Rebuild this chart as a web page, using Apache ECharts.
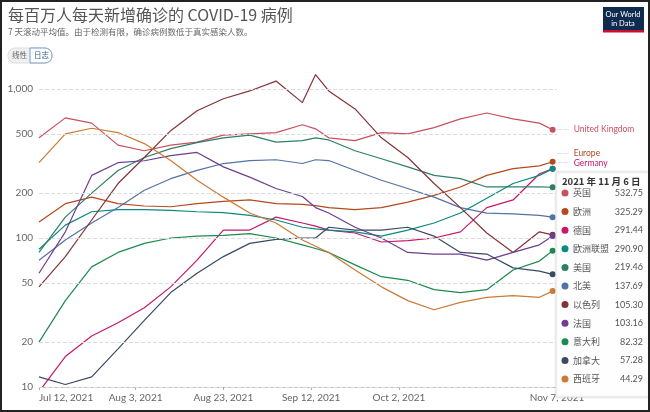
<!DOCTYPE html>
<html><head><meta charset="utf-8">
<script src="https://cdn.jsdelivr.net/npm/echarts@6/dist/echarts.min.js"></script>
<style>
html,body{margin:0;padding:0;background:#fff;}
#chart{width:646px;height:408px;border:2px solid #222;}
</style></head>
<body><div id="chart"></div>
<script>
// sample dates (7-day averages)
var dates = ['2021-07-12','2021-07-18','2021-07-24','2021-07-30','2021-08-05','2021-08-11','2021-08-17',
  '2021-08-23','2021-08-29','2021-09-04','2021-09-10','2021-09-13','2021-09-16','2021-09-22','2021-09-28',
  '2021-10-04','2021-10-10','2021-10-16','2021-10-22','2021-10-28','2021-11-03','2021-11-06'];

var names = ['英国','欧洲','德国','欧洲联盟','美国','北美','以色列','法国','意大利','加拿大','西班牙'];
var colors = ['#c9505f','#b5491e','#c8186a','#0a8a80','#2e7f66','#5272a8','#843339','#6d3e91','#1c8a4e','#3a4a62','#cc7a35'];
var lastValues = ['532.75','325.29','291.44','290.90','219.46','137.69','105.30','103.16','82.32','57.28','44.29'];

var uk      = [470,640,590,420,385,420,440,490,500,510,575,540,470,450,510,500,550,630,690,630,590,533];
var europe  = [128,170,188,170,164,162,170,176,180,170,168,165,160,155,160,174,193,220,263,292,305,325];
var germany = [9.3,16,22,27,34,47,71,113,113,138,126,120,113,108,94,96,100,110,160,180,270,291];
var eu      = [84,122,150,155,155,153,150,148,142,132,118,115,113,110,103,113,126,147,185,232,263,291];
var us      = [80,138,200,284,347,398,437,470,490,440,450,470,455,385,340,300,263,250,220,220,220,219];
var northAm = [71,97,126,160,209,250,284,316,331,335,316,335,331,284,244,215,188,160,147,145,142,138];
var israel  = [47,75,132,232,347,525,715,860,970,1130,810,1250,970,735,470,347,232,160,108,80,110,105];
var france  = [58,110,263,320,330,357,375,300,256,215,190,160,147,118,100,80,78,78,71,80,90,103];
var italy   = [20,38,64,80,92,100,103,104,107,100,90,85,80,66,55,52,45,43,45,61,70,82];
var canada  = [11.7,10.4,11.7,18,28,43,58,75,92,98,100,100,118,113,113,118,103,80,78,63,60,57];
var spain   = [320,500,545,510,430,331,244,188,147,126,97,88,80,61,47,38,33,37,40,41,40,44];

var seriesValues = [uk,europe,germany,eu,us,northAm,israel,france,italy,canada,spain];
var endNames = {0:'United Kingdom',1:'Europe',2:'Germany'};
var xTicks = ['2021-07-12','2021-08-03','2021-08-23','2021-09-12','2021-10-02','2021-11-07'];
var yTicks = [10,20,50,100,200,500,1000];

function ts(d){ return new Date(d + 'T00:00:00Z').getTime(); }
var monthNames = ['Jan','Feb','Mar','Apr','May','Jun','Jul','Aug','Sep','Oct','Nov','Dec'];

var series = seriesValues.map(function(vals, i){
  var s = {
    name: names[i], type: 'line', showSymbol: false, smooth: false,
    lineStyle: {width: 1.2, color: colors[i]}, itemStyle: {color: colors[i]},
    data: vals.map(function(v, j){ return [ts(dates[j]), v]; }),
    markPoint: {symbol: 'circle', symbolSize: 6, label: {show: false},
      data: [{coord: [ts(dates[dates.length-1]), vals[vals.length-1]]}],
      itemStyle: {color: colors[i]}},
    z: 3
  };
  if (endNames[i] !== undefined) {
    s.endLabel = {show: true, formatter: '{l|——}  ' + endNames[i], color: colors[i],
      fontSize: 8.5, fontFamily: 'Lato', distance: 4,
      offset: i === 1 ? [0, -8] : (i === 2 ? [0, -6] : [0, 0]),
      rich: {l: {color: '#ccc', fontSize: 8}}};
  }
  return s;
});
// grid lines
series[0].markLine = {silent: true, symbol: 'none', label: {show: false},
  lineStyle: {color: '#dcdcdc', type: 'dashed', width: 1},
  data: yTicks.map(function(v){ return {yAxis: v}; })};

var rows = [];
names.forEach(function(n, i){
  var y = 191 + i * 18.6;
  rows.push({type: 'circle', z: 11, shape: {cx: 563, cy: y, r: 3.5}, style: {fill: colors[i]}});
  rows.push({type: 'text', z: 11, x: 571, y: y, style: {text: n, fill: '#555', fontSize: 9, verticalAlign: 'middle', fontFamily: 'Noto Sans CJK SC'}});
  rows.push({type: 'text', z: 11, x: 641, y: y, style: {text: lastValues[i], fill: '#555', fontSize: 9, align: 'right', verticalAlign: 'middle', fontFamily: 'Lato'}});
});

var chart = echarts.init(document.getElementById('chart'));
chart.setOption({
  animation: false,
  grid: {left: 37, right: 91, top: 70, bottom: 23},
  xAxis: {type: 'value', min: ts('2021-07-12'), max: ts('2021-11-07'),
    axisLine: {lineStyle: {color: '#bbb'}}, splitLine: {show: false},
    axisTick: {show: true, customValues: xTicks.map(ts), length: 3, lineStyle: {color: '#aaa'}},
    axisLabel: {customValues: xTicks.map(ts), color: '#666', fontSize: 10, fontFamily: 'Lato', margin: 6,
      alignMinLabel: 'left',
      formatter: function(v){ var d = new Date(v); return monthNames[d.getUTCMonth()] + ' ' + d.getUTCDate() + ', ' + d.getUTCFullYear(); }}},
  yAxis: {type: 'log', min: 10, max: 1300, logBase: 10,
    axisLine: {show: false}, axisTick: {show: false}, splitLine: {show: false},
    axisLabel: {customValues: yTicks, color: '#666', fontSize: 10, fontFamily: 'Lato', margin: 6,
      formatter: function(v){ return v >= 1000 ? '1,000' : String(v); }}},
  series: series,
  graphic: [
    {type: 'text', left: 6, top: 5, style: {text: '每百万人每天新增确诊的 COVID-19 病例', fill: '#555', fontSize: 16, fontFamily: 'Noto Sans CJK SC'}},
    {type: 'text', left: 6, top: 26, style: {text: '7 天滚动平均值。由于检测有限，确诊病例数低于真实感染人数。', fill: '#666', fontSize: 8.5, fontFamily: 'Noto Sans CJK SC'}},
    {type: 'rect', shape: {x: 6, y: 46, width: 44, height: 15, r: 7}, style: {fill: '#f0f0f0', stroke: '#ddd'}},
    {type: 'rect', shape: {x: 28, y: 46, width: 22, height: 15, r: [0, 7, 7, 0]}, style: {fill: '#fff', stroke: '#7a9cc6'}},
    {type: 'text', x: 10, y: 49, style: {text: '线性', fill: '#666', fontSize: 7.5, fontFamily: 'Noto Sans CJK SC'}},
    {type: 'text', x: 32, y: 49, style: {text: '日志', fill: '#2b5c8a', fontSize: 7.5, fontFamily: 'Noto Sans CJK SC'}},
    {type: 'rect', shape: {x: 601, y: 5, width: 41, height: 25}, style: {fill: '#0f2b50'}},
    {type: 'rect', shape: {x: 601, y: 28, width: 41, height: 2.5}, style: {fill: '#c8102e'}},
    {type: 'text', x: 621, y: 17, style: {text: 'Our World\nin Data', fill: '#fff', fontSize: 7.5, align: 'center', verticalAlign: 'middle', fontFamily: 'Lato', lineHeight: 9}},
    {type: 'rect', z: 10, shape: {x: 554, y: 170, width: 93, height: 225}, style: {fill: 'rgba(255,255,255,0.96)', stroke: '#e2e2e2', shadowBlur: 3, shadowColor: 'rgba(0,0,0,0.1)'}},
    {type: 'text', z: 11, x: 560, y: 175, style: {text: '2021 年 11 月 6 日', fill: '#333', fontSize: 9.5, fontWeight: 'bold', fontFamily: 'Noto Sans CJK SC'}}
  ].concat(rows)
});
</script></body></html>
